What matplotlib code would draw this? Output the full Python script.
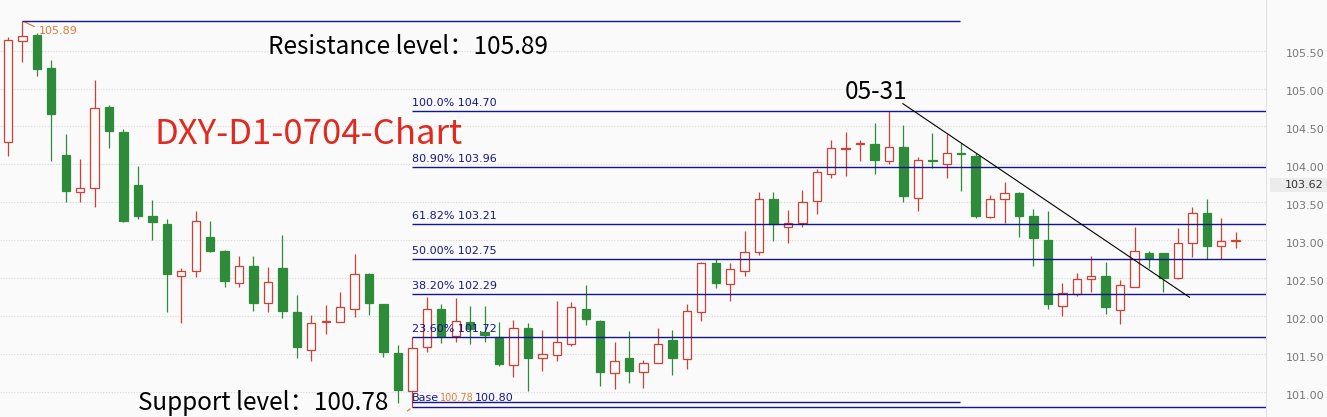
import matplotlib
matplotlib.use("Agg")
import matplotlib.pyplot as plt
from matplotlib.patches import Rectangle
from matplotlib.transforms import ScaledTranslation

# 日线 OHLC
opens = [104.29, 105.63, 105.70, 105.27, 104.12, 103.64, 103.69, 104.75, 104.43, 103.73,
         103.32, 103.22, 102.53, 102.59, 103.04, 102.86, 102.44, 102.66, 102.17, 102.64,
         102.06, 101.56, 101.92, 101.92, 102.10, 102.56, 102.16, 101.52, 101.01, 101.59,
         102.10, 101.74, 101.93, 101.79, 101.72, 101.36, 101.84, 101.45, 101.49, 101.64,
         102.10, 101.94, 101.25, 101.45, 101.27, 101.39, 101.68, 101.43, 102.06, 102.70,
         102.43, 102.60, 102.85, 103.55, 103.18, 103.23, 103.52, 103.88, 104.20, 104.27,
         104.27, 104.05, 104.23, 103.56, 104.05, 104.01, 104.15, 104.11, 103.31, 103.55,
         103.62, 103.32, 103.01, 102.14, 102.29, 102.49, 102.53, 102.08, 102.39, 102.83,
         102.83, 102.50, 102.97, 103.36, 102.93, 102.99]
highs = [105.68, 105.89, 105.73, 105.37, 104.40, 104.07, 105.11, 104.78, 104.47, 103.98,
         103.53, 103.28, 102.64, 103.38, 103.25, 102.87, 102.79, 102.79, 102.65, 103.07,
         102.28, 102.01, 102.15, 102.32, 102.82, 102.57, 102.16, 101.62, 101.73, 102.25,
         102.16, 102.24, 102.14, 102.14, 101.93, 101.95, 101.91, 101.82, 102.20, 102.19,
         102.41, 101.95, 101.66, 101.80, 101.42, 101.84, 101.82, 102.16, 102.72, 102.75,
         102.70, 103.12, 103.63, 103.63, 103.40, 103.66, 103.94, 104.32, 104.43, 104.32,
         104.55, 104.70, 104.52, 104.10, 104.42, 104.40, 104.28, 104.15, 103.60, 103.77,
         103.64, 103.41, 103.39, 102.44, 102.57, 102.79, 102.72, 102.48, 103.18, 102.86,
         102.83, 103.16, 103.44, 103.55, 103.29, 103.11]
lows = [104.11, 105.35, 105.16, 104.04, 103.50, 103.50, 103.44, 104.21, 103.24, 103.28,
        103.00, 102.06, 101.91, 102.51, 102.85, 102.39, 102.38, 102.07, 102.06, 101.97,
        101.45, 101.41, 101.76, 101.92, 101.99, 102.02, 101.46, 100.85, 100.80, 101.53,
        101.65, 101.66, 101.64, 101.66, 101.34, 101.20, 101.01, 101.28, 101.41, 101.61,
        101.88, 101.08, 101.04, 101.12, 101.05, 101.39, 101.22, 101.31, 101.94, 102.37,
        102.20, 102.53, 102.80, 102.99, 102.96, 103.17, 103.34, 103.82, 103.85, 104.05,
        103.88, 104.01, 103.50, 103.39, 103.95, 103.82, 103.65, 103.30, 103.30, 103.23,
        103.04, 102.66, 102.09, 102.00, 102.26, 102.32, 102.03, 101.90, 102.38, 102.64,
        102.32, 102.49, 102.78, 102.75, 102.75, 102.90]
closes = [105.64, 105.69, 105.26, 104.66, 103.65, 103.69, 104.74, 104.44, 103.25, 103.32,
          103.24, 102.55, 102.59, 103.25, 102.86, 102.47, 102.66, 102.18, 102.45, 102.07,
          101.59, 101.91, 101.92, 102.12, 102.55, 102.17, 101.53, 101.03, 101.58, 102.10,
          101.74, 101.94, 101.83, 101.75, 101.37, 101.85, 101.45, 101.50, 101.66, 102.12,
          101.96, 101.26, 101.41, 101.28, 101.38, 101.63, 101.45, 102.07, 102.70, 102.44,
          102.62, 102.85, 103.55, 103.21, 103.23, 103.51, 103.90, 104.21, 104.22, 104.28,
          104.06, 104.23, 103.58, 104.06, 104.04, 104.15, 104.14, 103.32, 103.55, 103.62,
          103.32, 103.03, 102.16, 102.30, 102.49, 102.53, 102.12, 102.41, 102.86, 102.77,
          102.50, 102.97, 103.36, 102.93, 102.99, 103.00]

# 斐波那契回撤
fib_prices = [104.70, 103.96, 103.21, 102.75, 102.29, 101.72, 100.80]
fib_labels = ["100.0% 104.70", "80.90% 103.96", "61.82% 103.21", "50.00% 102.75",
              "38.20% 102.29", "23.60% 101.72", ""]
fib_start = 28

resistance = 105.89
support_line = 100.87
level_start, level_end = 1, 65.9

trend_x = [61.96, 81.8]
trend_y = [104.80, 102.25]

price_ticks = [101.0, 101.5, 102.0, 102.5, 103.0, 103.5, 104.0, 104.5, 105.0, 105.5]
last_price = 103.62

W, H = 1327, 417
BG = "#fafafa"
RED = "#cc4038"
GREEN = "#2e8b3a"
NAVY = "#14168a"
ORANGE = "#e07b39"
CJK = ["Noto Sans CJK SC", "DejaVu Sans"]

fig = plt.figure(figsize=(W / 100, H / 100), dpi=100, facecolor=BG)
ax = fig.add_axes([0, 0, 1266 / W, 1])
ax.set_facecolor(BG)
ax.set_xlim(-0.55, 87.1)
ax.set_ylim(100.672, 106.166)

# 网格
ax.set_yticks(price_ticks)
ax.set_yticklabels([f"{t:.2f}" for t in price_ticks])
ax.yaxis.grid(True, linestyle=(0, (1, 1.5)), color="#d8d8d8", lw=0.8)
ax.set_axisbelow(True)
ax.set_xticks([])
ax.tick_params(axis="y", left=False, labelleft=False, right=False, labelright=True,
               pad=11, labelsize=8, labelcolor="#777777")
for lab in ax.get_yticklabels():
    lab.set_transform(lab.get_transform() + ScaledTranslation(0, -2.5 / 100, fig.dpi_scale_trans))
for s in ["left", "top", "bottom"]:
    ax.spines[s].set_visible(False)
ax.spines["right"].set_color("#e2e2e2")

# K线
xs = list(range(len(opens)))
for i in xs:
    o, h, l, c = opens[i], highs[i], lows[i], closes[i]
    up = c >= o
    col = RED if up else GREEN
    ax.vlines(i, l, h, color=col, lw=0.9, zorder=2)
    bottom = min(o, c)
    height = max(abs(c - o), 0.012)
    ax.bar(i, height, bottom=bottom, width=0.58, color=BG if up else col,
           edgecolor=col, linewidth=0.9, zorder=3)

# 斐波那契线
for p, lab in zip(fib_prices, fib_labels):
    ax.hlines(p, fib_start, 87.1, color=NAVY, lw=1, zorder=4)
    if lab:
        ax.annotate(lab, (fib_start, p), xytext=(0, 2.5), textcoords="offset points",
                    color=NAVY, fontsize=8, ha="left", va="bottom", zorder=5)
ax.annotate("Base", (fib_start, fib_prices[-1]), xytext=(0, 3), textcoords="offset points",
            color=NAVY, fontsize=8, ha="left", va="bottom", zorder=5)
ax.annotate("100.78", (fib_start, fib_prices[-1]), xytext=(19.5, 3), textcoords="offset points",
            color=ORANGE, fontsize=7, ha="left", va="bottom", zorder=5)
ax.annotate("100.80", (fib_start, fib_prices[-1]), xytext=(45, 3), textcoords="offset points",
            color=NAVY, fontsize=8, ha="left", va="bottom", zorder=5)
ax.annotate("", (fib_start - 0.5, fib_prices[-1] - 0.07), xytext=(fib_start, fib_prices[-1]),
            arrowprops=dict(arrowstyle="-", color=ORANGE, lw=0.9))

# 阻力/支撑水平线
ax.hlines(resistance, level_start, level_end, color=NAVY, lw=1, zorder=4)
ax.hlines(support_line, fib_start, level_end, color=NAVY, lw=1, zorder=4)
ax.annotate("", (level_start + 1.0, resistance - 0.09), xytext=(level_start, resistance),
            arrowprops=dict(arrowstyle="-", color=ORANGE, lw=0.9))
ax.annotate("105.89", (level_start, resistance), xytext=(12, -7), textcoords="offset points",
            color=ORANGE, fontsize=8, ha="left", va="center")

# 趋势线
ax.plot(trend_x, trend_y, color="black", lw=0.8, zorder=5)

# 当前价格标签
fig.patches.append(Rectangle((1270 / W, 1 - 192 / H), 57 / W, 14 / H,
                             transform=fig.transFigure, facecolor="#ececec",
                             edgecolor="none", zorder=1))
fig.text(1285 / W, 1 - 185 / H, f"{last_price:.2f}", fontsize=8, color="#333333",
         ha="left", va="center")

# 文字注释
fig.text(268 / W, 1 - 47 / H, "Resistance level：105.89", fontsize=17.5, color="black",
         family=CJK, ha="left", va="center")
fig.text(138 / W, 1 - 403 / H, "Support level：100.78", fontsize=17.5, color="black",
         family=CJK, ha="left", va="center")
fig.text(155 / W, 1 - 134 / H, "DXY-D1-0704-Chart", fontsize=25, color="#e02a1f",
         family=CJK, ha="left", va="center")
fig.text(845 / W, 1 - 92 / H, "05-31", fontsize=17.5, color="black",
         family=CJK, ha="left", va="center")

fig.savefig("out.png", dpi=100, facecolor=BG)
